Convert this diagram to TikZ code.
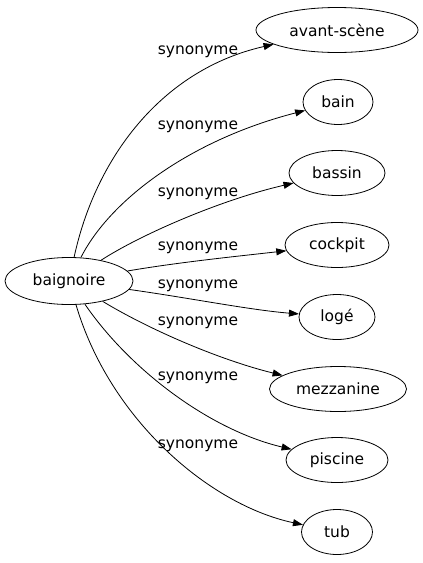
\documentclass[tikz,border=0pt]{standalone}
\usepackage{fontspec}
\setmainfont{DejaVu Sans}
\usetikzlibrary{shapes.geometric,arrows.meta}
\tikzset{
  word/.style={draw, ellipse, line width=0.8pt, inner sep=0pt, minimum height=45pt, font=\fontsize{15.5}{18}\selectfont},
  lbl/.style={inner sep=0pt, font=\fontsize{15.5}{18}\selectfont},
  edge/.style={line width=0.8pt, -{Triangle[length=10pt,width=7pt]}}
}
\begin{document}
\begin{tikzpicture}[x=1pt,y=-1pt]
\useasboundingbox (0,0) rectangle (423,563);
\node[word, minimum width=128pt, minimum height=47pt] (baignoire) at (69,281) {baignoire};
\node[word, minimum width=162pt] (avant) at (337,30) {avant-scène};
\node[word, minimum width=70pt] (bain) at (338,102) {bain};
\node[word, minimum width=96pt] (bassin) at (337,173) {bassin};
\node[word, minimum width=104pt] (cockpit) at (337,245) {cockpit};
\node[word, minimum width=76pt] (loge) at (337,317) {logé};
\node[word, minimum width=137pt] (mezzanine) at (338,389) {mezzanine};
\node[word, minimum width=102pt] (piscine) at (337,460) {piscine};
\node[word, minimum width=71pt] (tub) at (337,532) {tub};

\draw[edge] (baignoire) .. controls (95,160) and (160,70) .. (avant);
\draw[edge] (baignoire) .. controls (110,200) and (190,140) .. (bain);
\draw[edge] (baignoire) .. controls (140,235) and (220,200) .. (bassin);
\draw[edge] (baignoire) .. controls (180,262) and (240,256) .. (cockpit);
\draw[edge] (baignoire) .. controls (190,298) and (250,310) .. (loge);
\draw[edge] (baignoire) .. controls (150,330) and (220,360) .. (mezzanine);
\draw[edge] (baignoire) .. controls (130,370) and (210,430) .. (piscine);
\draw[edge] (baignoire) .. controls (110,420) and (210,505) .. (tub);

\node[lbl] (l1) at (198,52) {synonyme};
\node[lbl] (l2) at (198,127) {synonyme};
\node[lbl] (l3) at (198,194) {synonyme};
\node[lbl] (l4) at (198,248) {synonyme};
\node[lbl] (l5) at (198,286) {synonyme};
\node[lbl] (l6) at (198,323) {synonyme};
\node[lbl] (l7) at (198,378) {synonyme};
\node[lbl] (l8) at (198,446) {synonyme};
\end{tikzpicture}
\end{document}
